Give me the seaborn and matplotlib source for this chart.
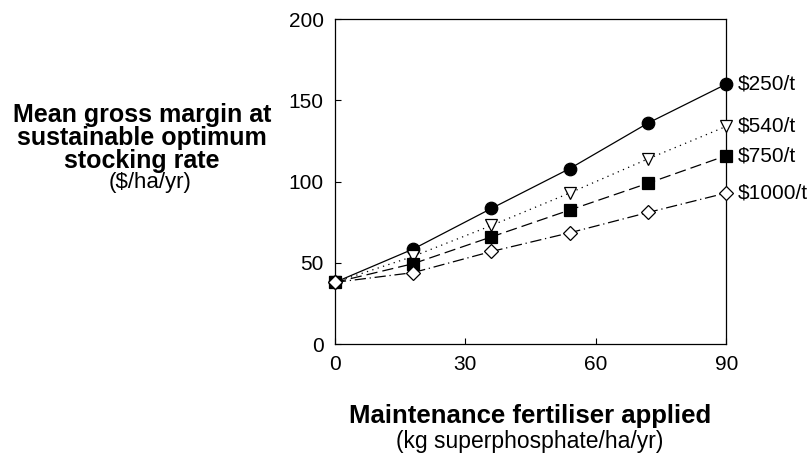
import matplotlib
matplotlib.use("Agg")
import matplotlib.pyplot as plt
import seaborn as sns
import pandas as pd

fert = [0, 18, 36, 54, 72, 90]
gm_250 = [38, 58.5, 83.5, 108, 136, 160]
gm_540 = [38, 54, 73, 93, 114, 134]
gm_750 = [38, 49.5, 66, 82.5, 99, 116]
gm_1000 = [38, 44, 57, 68.5, 81, 93]
series_names = ["$250/t", "$540/t", "$750/t", "$1000/t"]
x_ticks = [0, 30, 60, 90]
y_ticks = [0, 50, 100, 150, 200]

sns.set_theme(style="white")
plt.rcParams['font.family'] = ['Liberation Sans', 'DejaVu Sans']
plt.rcParams['text.color'] = 'black'

fig = plt.figure(figsize=(8.07, 4.54), dpi=100)
ax = fig.add_axes([0.415, 0.242, 0.485, 0.716])

styles = [
    dict(ls="-", marker="o", mfc="black", ms=9),
    dict(ls=(0, (1, 3.5)), marker="v", mfc="white", ms=9),
    dict(ls=(0, (9, 4)), marker="s", mfc="black", ms=8),
    dict(ls=(0, (9, 3, 1, 3)), marker="D", mfc="white", ms=7.5),
]
vals = [gm_250, gm_540, gm_750, gm_1000]
for name, v, st in zip(series_names, vals, styles):
    df = pd.DataFrame({"x": fert, "y": v})
    sns.lineplot(data=df, x="x", y="y", ax=ax, color="black", lw=0.9,
                 linestyle=st["ls"], marker=st["marker"], markersize=st["ms"],
                 markerfacecolor=st["mfc"], markeredgecolor="black",
                 markeredgewidth=0.9, clip_on=False, zorder=3)
    ax.annotate(name, xy=(90, v[-1]), xytext=(11, 0), textcoords="offset pixels",
                va="center", ha="left", fontsize=15, color="black",
                annotation_clip=False)

ax.set_xlim(0, 90)
ax.set_ylim(0, 200)
ax.set_xticks(x_ticks)
ax.set_yticks(y_ticks)
ax.tick_params(direction="in", length=4, width=0.8, labelsize=15, colors="black",
               left=True, bottom=True, top=False, right=False)
ax.tick_params(axis="y", pad=8)
ax.tick_params(axis="x", pad=8)
ax.set_xlabel("")
ax.set_ylabel("")
for s in ax.spines.values():
    s.set_color("black")
    s.set_linewidth(0.9)

W, H = 807, 454
def ft(x, y, s, **kw):
    fig.text(x / W, 1 - y / H, s, ha="center", va="baseline", color="black", **kw)

ft(142, 122, "Mean gross margin at", fontsize=18, fontweight="bold")
ft(142, 145, "sustainable optimum", fontsize=18, fontweight="bold")
ft(142, 168, "stocking rate", fontsize=18, fontweight="bold")
ft(150, 188, "($/ha/yr)", fontsize=16)
ft(530, 423, "Maintenance fertiliser applied", fontsize=18.5, fontweight="bold")
ft(530, 448, "(kg superphosphate/ha/yr)", fontsize=16.5)

fig.savefig("out.png", dpi=100)
